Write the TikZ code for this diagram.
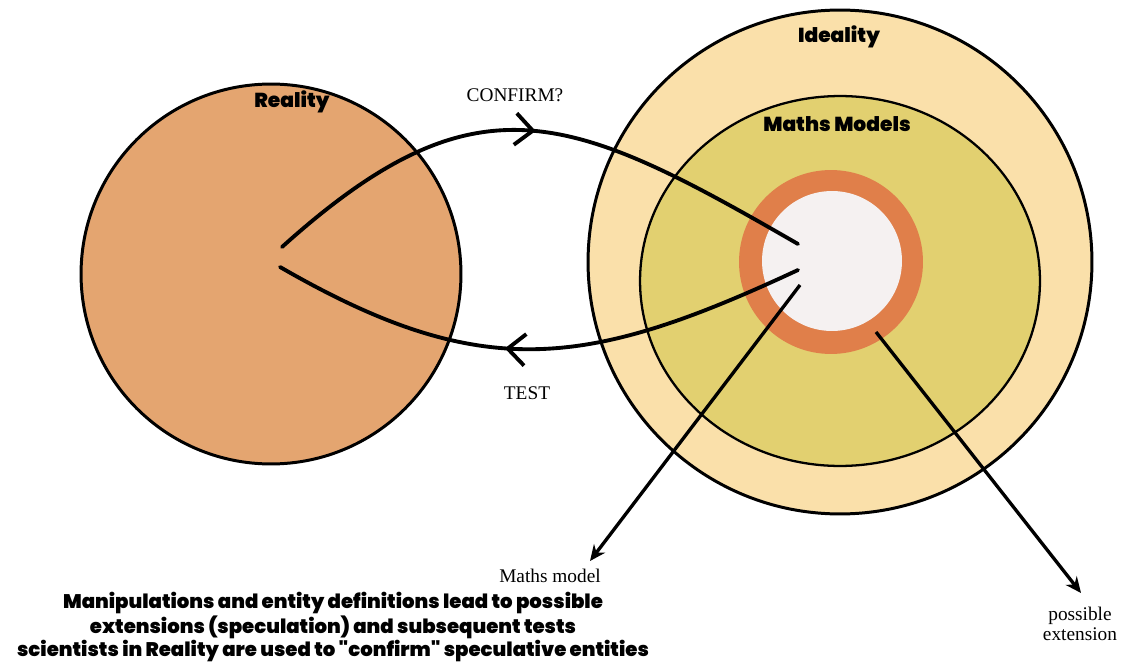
\documentclass[tikz,border=0pt]{standalone}
\usepackage{fontspec}
\setmainfont{Liberation Serif}
\newfontfamily\headfont{Poppins Black}
\usetikzlibrary{arrows.meta,decorations.markings}
\definecolor{realfill}{RGB}{228,165,112}
\definecolor{idealfill}{RGB}{250,224,170}
\definecolor{modelfill}{RGB}{226,208,112}
\definecolor{ringfill}{RGB}{224,127,74}
\definecolor{corefill}{RGB}{245,241,241}
\tikzset{
	head/.style={font=\headfont\fontsize{11.5}{12}\selectfont},
	lbl/.style={font=\fontsize{11}{12}\selectfont, align=center},
	loop/.style={line width=2.2pt, line cap=round,
		postaction={decorate, decoration={markings,
		mark=at position #1 with {\arrow[line width=2.2pt]{Straight Barb[length=10pt,width=18pt]}}}}},
	pointer/.style={line width=1.9pt, -{Stealth[length=9pt,width=8pt]}}
}
\begin{document}
\begin{tikzpicture}[x=0.02cm,y=-0.02cm]
		\useasboundingbox (0,0) rectangle (1125,662);
		% the two worlds
		\filldraw[fill=realfill, line width=1.7pt] (271,274) circle[radius=3.8cm];
		\filldraw[fill=idealfill, line width=1.7pt] (840,262) circle[radius=5.04cm];
		\filldraw[fill=modelfill, line width=1.3pt] (840,281) ellipse[x radius=4cm, y radius=3.7cm];
		\fill[ringfill] (831,262) circle[radius=1.84cm];
		\fill[corefill] (832,261) circle[radius=1.4cm];
		% end points of the connectors
		\coordinate (rs1) at (282,247);
		\coordinate (rs2) at (280,267);
		\coordinate (ms1) at (798,244);
		\coordinate (ms2) at (798,270);
		\coordinate (ms3) at (800,285);
		\coordinate (ring) at (876,332);
		\coordinate (mtip) at (590,561);
		\coordinate (etip) at (1081,593);
		% labels
		\node[head] (reality) at (292,102) {Reality};
		\node[head] (ideality) at (839,37) {Ideality};
		\node[head] (models) at (837,124) {Maths Models};
		\node[lbl] (confirm) at (515,95) {CONFIRM?};
		\node[lbl] (test) at (527,393) {TEST};
		\node[lbl] (model) at (550,576) {Maths model};
		\node[lbl] (ext) at (1080,624) {possible\\[-1pt]extension};
		\node[head, align=center, font=\headfont\fontsize{11.2}{10}\selectfont] (note) at (333,627)
			{Manipulations and entity definitions lead to possible\\extensions (speculation) and subsequent tests\\scientists in Reality are used to "confirm" speculative entities};
		% connectors
		\draw[loop=0.5] (rs1) to[out=42,in=150,looseness=1.3] (ms1);
		\draw[loop=0.56] (ms2) to[out=205,in=-30,looseness=1.15] (rs2);
		\draw[pointer] (ms3) -- (mtip);
		\draw[pointer] (ring) -- (etip);
		\end{tikzpicture}
\end{document}
